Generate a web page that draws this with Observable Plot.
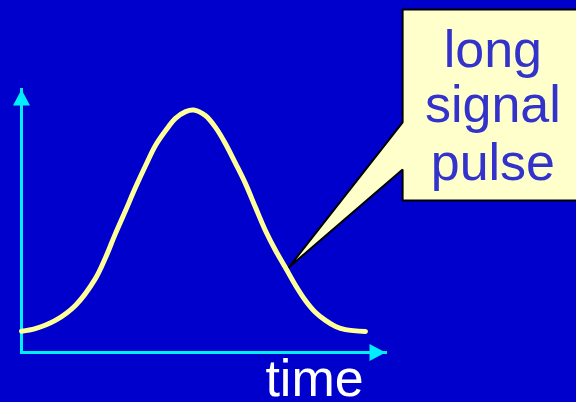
<!DOCTYPE html>
<html>
<head>
<meta charset="utf-8">
<script src="https://cdn.jsdelivr.net/npm/d3@7"></script>
<script src="https://cdn.jsdelivr.net/npm/@observablehq/plot@0.6"></script>
<style>
  html, body { margin: 0; padding: 0; background: #0000CC; overflow: hidden; }
  #chart svg { display: block; }
</style>
</head>
<body>
<div id="chart"></div>
<script>
// Pulse curve (time units 0..100 along the axis, amplitude 0..100 up the axis)
const time = [0, 3.8, 9.3, 14.8, 20.3, 23.1, 25.8, 28.6, 31.3, 34.1, 36.8, 39.6, 42.3, 45.1, 47.3,
              50.5, 53.3, 56.0, 58.8, 61.5, 64.3, 67.0, 69.8, 72.5, 75.3, 78.0, 80.8, 83.5, 86.3, 89.0, 94.5];
const amplitude = [8.1, 9.1, 12.2, 17.9, 28.1, 36.1, 45.2, 54.0, 62.7, 71.1, 78.7, 84.4, 89.0, 91.6, 92.2,
                   90.1, 85.6, 79.5, 71.9, 64.3, 55.1, 46.4, 38.8, 32.3, 25.5, 19.8, 15.2, 12.2, 9.9, 8.7, 8.0];

// Axes (from origin to arrow tips)
const axisX1 = [0, 0];
const axisY1 = [0, 0];
const axisX2 = [0, 100];
const axisY2 = [100, 0];

// Callout balloon outline
const calloutT = [104.7, 153, 153, 104.7, 104.7, 73.4, 104.7, 104.7];
const calloutA = [130.4, 130.4, 57.8, 57.8, 69.6, 32.3, 87.5, 130.4];

// Callout text lines
const labelLines = ["long", "signal", "pulse"];
const labelT = [129.5, 129.5, 129.5];
const labelA = [108.4, 87.5, 65.4];

// Axis title
const axisTitle = "time";
const axisTitleT = 94;
const axisTitleA = -16.7;

const pulse = time.map((t, i) => ({t, a: amplitude[i]}));
const axes = axisX1.map((x1, i) => ({x1, y1: axisY1[i], x2: axisX2[i], y2: axisY2[i]}));
const callout = calloutT.map((t, i) => ({t, a: calloutA[i]}));
const labels = labelLines.map((s, i) => ({s, t: labelT[i], a: labelA[i]}));

const cyan = "#00EEFF";
const arrowHead = {
  draw(ctx) {
    ctx.moveTo(0, 0);
    ctx.lineTo(8.5, 16);
    ctx.lineTo(-8.5, 16);
    ctx.closePath();
  }
};

const chart = Plot.plot({
  width: 576,
  height: 402,
  margin: 0,
  style: {background: "#0000CC", fontFamily: "'Liberation Sans', Arial, sans-serif"},
  x: {domain: [0, 100], range: [21, 385], axis: null},
  y: {domain: [0, 100], range: [352, 89], axis: null},
  marks: [
    Plot.link(axes, {x1: "x1", y1: "y1", x2: "x2", y2: "y2", stroke: cyan, strokeWidth: 3, strokeLinecap: "square"}),
    Plot.dot([{t: 0, a: 100}], {x: "t", y: "a", symbol: arrowHead, fill: cyan, stroke: "none", r: 8}),
    Plot.dot([{t: 100, a: 0}], {x: "t", y: "a", symbol: arrowHead, fill: cyan, stroke: "none", r: 8, rotate: 90}),
    Plot.line(pulse, {x: "t", y: "a", curve: "catmull-rom", stroke: "#FFFF99", strokeWidth: 5}),
    Plot.line(callout, {x: "t", y: "a", fill: "#FFFFCC", stroke: "#000000", strokeWidth: 2, strokeLinejoin: "miter"}),
    Plot.text(labels, {x: "t", y: "a", text: "s", fill: "#3333CC", fontSize: 52, textAnchor: "middle", lineAnchor: "bottom"}),
    Plot.text([axisTitle], {x: () => axisTitleT, y: () => axisTitleA, text: d => d, fill: "#FFFFFF", fontSize: 52, textAnchor: "end", lineAnchor: "bottom"})
  ]
});
document.getElementById("chart").append(chart);
</script>
</body>
</html>
